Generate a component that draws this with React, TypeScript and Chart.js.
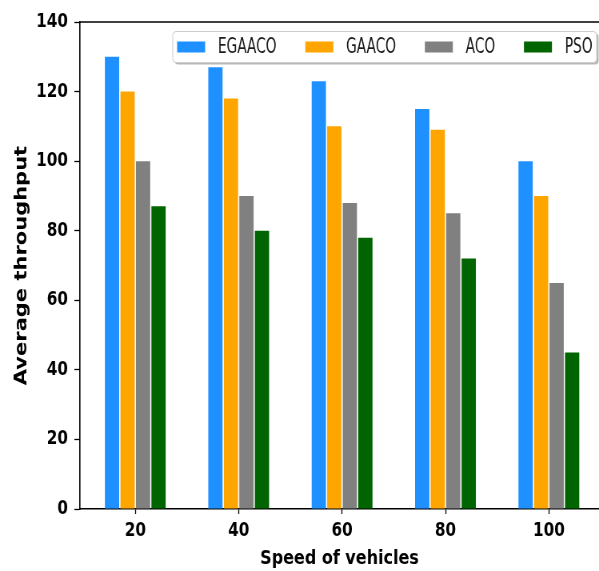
import React, { useEffect, useRef } from "react";
import { Chart, registerables } from "chart.js";

Chart.register(...registerables);

// ---- data ----
const speeds = [20, 40, 60, 80, 100];
const seriesNames = ["EGAACO", "GAACO", "ACO", "PSO"];
const egaaco = [130, 127, 123, 115, 100];
const gaaco = [120, 118, 110, 109, 90];
const aco = [100, 90, 88, 85, 65];
const pso = [87, 80, 78, 72, 45];
const seriesColors = ["#1E90FF", "#FFA500", "#808080", "#006400"];
const yTickValues = [0, 20, 40, 60, 80, 100, 120, 140];
const xTitle = "Speed of vehicles";
const yTitle = "Average throughput";

// display size & horizontal squeeze of the reference picture
const W = 599;
const H = 571;
const SQUEEZE = 0.8;
const W_INT = Math.round(W / SQUEEZE);
const FONT = "'DejaVu Sans', sans-serif";

const topSpine = {
  id: "topSpine",
  afterDraw(chart: any) {
    const { ctx, chartArea } = chart;
    ctx.save();
    ctx.strokeStyle = "#000";
    ctx.lineWidth = 1.4;
    ctx.beginPath();
    ctx.moveTo(chartArea.left, chartArea.top);
    ctx.lineTo(chartArea.right, chartArea.top);
    ctx.stroke();
    ctx.restore();
  },
};

const innerLegend = {
  id: "innerLegend",
  afterDatasetsDraw(chart: any) {
    const { ctx, chartArea } = chart;
    const left = chartArea.left + 116;
    const top = chartArea.top + 9.5;
    const right = chartArea.right - 3;
    const bottom = chartArea.top + 40.5;
    ctx.save();
    // shadow
    ctx.fillStyle = "rgba(0,0,0,0.28)";
    ctx.beginPath();
    ctx.roundRect(left + 2.5, top + 2, right - left, bottom - top, 4);
    ctx.fill();
    // frame
    ctx.fillStyle = "#ffffff";
    ctx.strokeStyle = "#cccccc";
    ctx.lineWidth = 1;
    ctx.beginPath();
    ctx.roundRect(left, top, right - left, bottom - top, 4);
    ctx.fill();
    ctx.stroke();

    const cy = (top + bottom) / 2;
    const sx = 0.78;
    ctx.font = `22px ${FONT}`;
    ctx.textBaseline = "middle";
    ctx.textAlign = "left";
    let x = left + 5.5;
    chart.data.datasets.forEach((ds: any) => {
      ctx.fillStyle = ds.backgroundColor;
      ctx.fillRect(x, cy - 5.5, 35, 11);
      x += 35 + 16;
      ctx.fillStyle = "#1a1a1a";
      ctx.save();
      ctx.translate(x, cy);
      ctx.scale(sx, 1);
      ctx.fillText(ds.label, 0, 0);
      ctx.restore();
      x += ctx.measureText(ds.label).width * sx + 36;
    });
    ctx.restore();
  },
};

export default function App() {
  const ref = useRef<HTMLCanvasElement | null>(null);

  useEffect(() => {
    const canvas = ref.current;
    if (!canvas) return;
    const values = [egaaco, gaaco, aco, pso];
    const chart = new Chart(canvas, {
      type: "bar",
      data: {
        datasets: seriesNames.map((name, i) => ({
          label: name,
          data: speeds.map((s, j) => ({ x: s, y: values[i][j] })),
          backgroundColor: seriesColors[i],
          borderWidth: 0,
          categoryPercentage: 0.6,
          barPercentage: 0.92,
        })),
      },
      options: {
        responsive: false,
        animation: false,
        devicePixelRatio: 1,
        layout: { padding: { top: 22, right: 0, left: 0, bottom: 0 } },
        plugins: {
          legend: { display: false },
          tooltip: { enabled: false },
        },
        scales: {
          x: {
            type: "linear",
            min: 9.3,
            max: 109.7,
            offset: false,
            afterBuildTicks: (scale: any) => {
              scale.ticks = speeds.map((v) => ({ value: v }));
            },
            afterFit: (scale: any) => {
              scale.height = 62;
            },
            ticks: {
              autoSkip: false,
              maxRotation: 0,
              padding: 6,
              color: "#000",
              font: { family: FONT, size: 19, weight: "bold" },
              callback: (v: any) => String(v),
            },
            grid: {
              offset: false,
              drawOnChartArea: false,
              drawTicks: true,
              tickLength: 5,
              tickWidth: 1.3,
              tickColor: "#000",
            },
            border: { display: true, color: "#000", width: 1.4 },
            title: {
              display: true,
              text: xTitle,
              color: "#000",
              font: { family: FONT, size: 20, weight: "bold" },
              padding: { top: 0, bottom: 0 },
            },
          },
          y: {
            min: 0,
            max: 140,
            afterBuildTicks: (scale: any) => {
              scale.ticks = yTickValues.map((v) => ({ value: v }));
            },
            afterFit: (scale: any) => {
              scale.width = 100;
            },
            ticks: {
              padding: 8,
              color: "#000",
              font: { family: FONT, size: 19, weight: "bold" },
              callback: (v: any) => String(v),
            },
            grid: {
              drawOnChartArea: false,
              drawTicks: true,
              tickLength: 7,
              tickWidth: 1.3,
              tickColor: "#000",
            },
            border: { display: true, color: "#000", width: 1.6 },
            title: {
              display: true,
              text: yTitle,
              color: "#000",
              font: { family: FONT, size: 21, weight: "bold" },
              padding: { top: 15, bottom: 0 },
            },
          },
        },
      },
      plugins: [topSpine, innerLegend],
    } as any);
    return () => chart.destroy();
  }, []);

  return (
    <div style={{ position: "absolute", left: 0, top: 0, width: W, height: H, background: "#fff" }}>
      <canvas
        ref={ref}
        width={W_INT}
        height={H}
        style={{ width: `${W}px`, height: `${H}px`, display: "block" }}
      />
    </div>
  );
}
